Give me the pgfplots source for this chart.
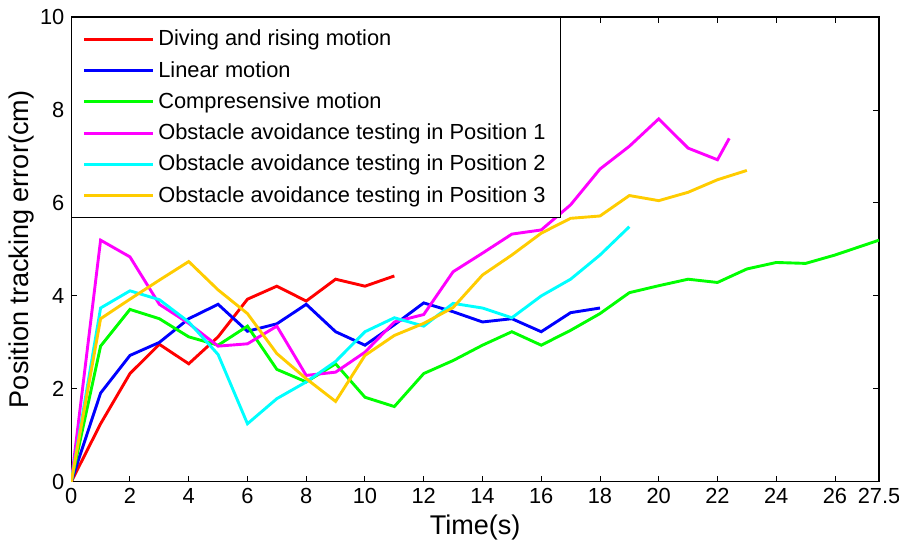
\documentclass[border=0pt]{standalone}
\usepackage{pgfplots}
\pgfplotsset{compat=1.18}
\usepackage{fontspec}
\setmainfont{Liberation Sans}
\definecolor{gold}{RGB}{255,204,0}
\definecolor{mred}{RGB}{255,0,0}
\definecolor{mblue}{RGB}{0,0,255}
\definecolor{mgreen}{RGB}{0,255,0}
\definecolor{mmagenta}{RGB}{255,0,255}
\definecolor{mcyan}{RGB}{0,255,255}
\begin{document}
\begin{tikzpicture}
\begin{axis}[
  name=ax,
  scale only axis,
  width=418pt, height=240.5pt,
  xmin=0, xmax=27.5, ymin=0, ymax=10,
  xtick={0,2,4,6,8,10,12,14,16,18,20,22,24,26,27.5},
  xticklabels={0,2,4,6,8,10,12,14,16,18,20,22,24,26,27.5},
  ytick={0,2,4,6,8,10},
  tick align=inside,
  major tick length=3pt,
  tick style={black, line width=0.5pt},
  axis line style={line width=0.6pt},
  /pgf/number format/assume math mode=true,
  ticklabel style={font=\fontsize{11.3}{13}\selectfont},
  xlabel={Time(s)}, ylabel={Position tracking error(cm)},
  label style={font=\fontsize{14}{16}\selectfont},
  xlabel style={yshift=1.5pt},
  ylabel style={yshift=-4pt},
  legend style={at={(0,1)}, anchor=north west, draw=black, fill=white,
    font=\fontsize{11.3}{13}\selectfont, row sep=2.5pt, inner xsep=5.8pt, inner ysep=4.5pt},
  legend cell align=left,
  legend image code/.code={\draw[#1, line width=1.5pt] (0cm,0cm) -- (1.25cm,0cm);},
  every axis plot/.append style={line width=1.5pt},
]
\addplot[mred] coordinates {(0,0)(1,1.25)(2,2.33)(3,2.96)(4,2.54)(5,3.12)(6,3.93)(7,4.21)(8,3.89)(9,4.36)(10,4.21)(11,4.43)};
\addlegendentry{Diving and rising motion}
\addplot[mblue] coordinates {(0,0)(1,1.91)(2,2.72)(3,3.0)(4,3.51)(5,3.82)(6,3.24)(7,3.40)(8,3.82)(9,3.23)(10,2.94)(11,3.38)(12,3.85)(13,3.66)(14,3.44)(15,3.51)(16,3.23)(17,3.64)(18,3.74)};
\addlegendentry{Linear motion}
\addplot[mgreen] coordinates {(0,0)(1,2.92)(2,3.71)(3,3.51)(4,3.12)(5,2.94)(6,3.35)(7,2.42)(8,2.15)(9,2.54)(10,1.82)(11,1.62)(12,2.33)(13,2.61)(14,2.94)(15,3.23)(16,2.94)(17,3.26)(18,3.62)(19,4.07)(20,4.22)(21,4.36)(22,4.29)(23,4.58)(24,4.72)(25,4.70)(26,4.88)(27.5,5.2)};
\addlegendentry{Compresensive motion}
\addplot[mmagenta] coordinates {(0,0)(1,5.2)(2,4.84)(3,3.82)(4,3.41)(5,2.92)(6,2.97)(7,3.35)(8,2.29)(9,2.36)(10,2.79)(11,3.44)(12,3.6)(13,4.52)(14,4.92)(15,5.33)(16,5.42)(17,5.96)(18,6.73)(19,7.22)(20,7.81)(21,7.18)(22,6.93)(22.4,7.39)};
\addlegendentry{Obstacle avoidance testing in Position 1}
\addplot[mcyan] coordinates {(0,0)(1,3.74)(2,4.11)(3,3.92)(4,3.44)(5,2.74)(6,1.25)(7,1.79)(8,2.15)(9,2.59)(10,3.23)(11,3.53)(12,3.35)(13,3.84)(14,3.74)(15,3.53)(16,4.0)(17,4.36)(18,4.88)(19,5.49)};
\addlegendentry{Obstacle avoidance testing in Position 2}
\addplot[gold] coordinates {(0,0)(1,3.51)(2,3.93)(3,4.34)(4,4.74)(5,4.13)(6,3.62)(7,2.76)(8,2.22)(9,1.73)(10,2.72)(11,3.15)(12,3.41)(13,3.75)(14,4.45)(15,4.88)(16,5.35)(17,5.67)(18,5.72)(19,6.16)(20,6.05)(21,6.23)(22,6.5)(23,6.70)};
\addlegendentry{Obstacle avoidance testing in Position 3}
\end{axis}
\pgfresetboundingbox
\path[use as bounding box] ([xshift=-1.5pt]ax.outer south west) rectangle ([xshift=-4pt,yshift=1.5pt]ax.outer north east);
\end{tikzpicture}
\end{document}
